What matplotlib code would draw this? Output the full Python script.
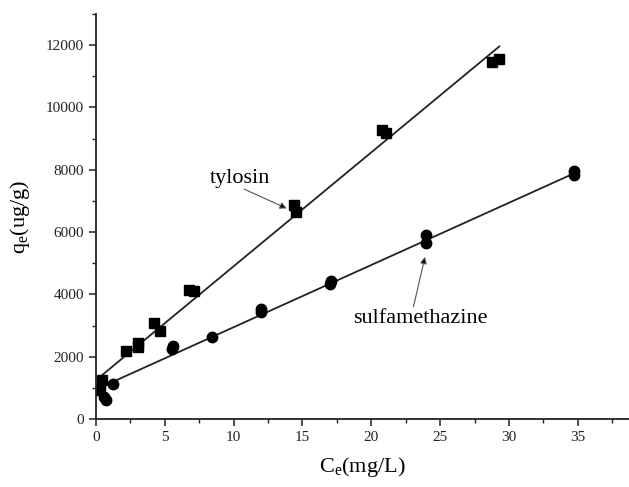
"""
Isotermas de adsorção: q_e em função de C_e para tilosina e sulfametazina,
com as retas de ajuste linear de cada composto.
"""

import matplotlib.pyplot as plt
from matplotlib.ticker import MultipleLocator

plt.rcParams['font.family'] = ['Liberation Serif', 'DejaVu Serif']
plt.rcParams['mathtext.fontset'] = 'custom'
plt.rcParams['mathtext.rm'] = 'Liberation Serif'

# Tilosina (quadrados)
tylosin_ce = [0.29, 0.41, 2.16, 3.07, 3.07, 4.24, 4.65, 6.75, 7.15,
              14.4, 14.5, 20.75, 21.1, 28.8, 29.3]
tylosin_qe = [930, 1250, 2190, 2320, 2430, 3070, 2820, 4130, 4110,
              6870, 6640, 9270, 9170, 11450, 11550]

# Sulfametazina (círculos)
sulfa_ce = [0.6, 0.7, 1.21, 5.55, 5.6, 8.4, 12.0, 12.0, 17.0, 17.1,
            23.98, 23.98, 34.7, 34.7]
sulfa_qe = [700, 600, 1110, 2250, 2330, 2620, 3440, 3530, 4340, 4430,
            5640, 5900, 7950, 7830]

# Retas de ajuste (pontos extremos)
tylosin_fit_x = [0.2, 29.3]
tylosin_fit_y = [1320, 11960]
sulfa_fit_x = [0.2, 34.7]
sulfa_fit_y = [990, 7880]

fig = plt.figure(figsize=(6.29, 4.87), dpi=100)
ax = fig.add_axes([0.1526, 0.1396, 0.847, 0.8316])

ax.plot(tylosin_fit_x, tylosin_fit_y, color='#222222', linewidth=1.3)
ax.plot(sulfa_fit_x, sulfa_fit_y, color='#222222', linewidth=1.3)
ax.plot(tylosin_ce, tylosin_qe, linestyle='none', marker='s',
        markersize=7, color='black')
ax.plot(sulfa_ce, sulfa_qe, linestyle='none', marker='o',
        markersize=7.5, color='black')

# Rótulos e setas
seta = dict(arrowstyle='-|>', color='#555555', lw=0.8, shrinkA=0,
            shrinkB=0, mutation_scale=10, fc='black')
ax.text(10.47, 7730, 'tylosin', ha='center', va='center', fontsize=16)
ax.annotate('', xy=(13.86, 6760), xytext=(10.76, 7380), arrowprops=seta)
ax.text(23.6, 3240, 'sulfamethazine', ha='center', va='center', fontsize=16)
ax.annotate('', xy=(23.9, 5207), xytext=(23.06, 3603), arrowprops=seta)

ax.set_xlim(0, 38.7)
ax.set_ylim(0, 13000)
ax.xaxis.set_major_locator(MultipleLocator(5))
ax.xaxis.set_minor_locator(MultipleLocator(2.5))
ax.yaxis.set_major_locator(MultipleLocator(2000))
ax.yaxis.set_minor_locator(MultipleLocator(1000))

ax.spines['top'].set_visible(False)
ax.spines['right'].set_visible(False)
for s in ['left', 'bottom']:
    ax.spines[s].set_linewidth(1.3)
    ax.spines[s].set_color('#222222')

ax.tick_params(which='major', direction='out', length=5, width=1.1,
               labelsize=11, colors='#222222')
ax.tick_params(which='minor', direction='out', length=3, width=1.0,
               colors='#222222')

ax.set_xlabel(r'C$_\mathregular{e}$(mg/L)', fontsize=16, labelpad=8)
ax.set_ylabel(r'q$_\mathregular{e}$(ug/g)', fontsize=16, labelpad=10)

fig.savefig('out.png', dpi=100)
